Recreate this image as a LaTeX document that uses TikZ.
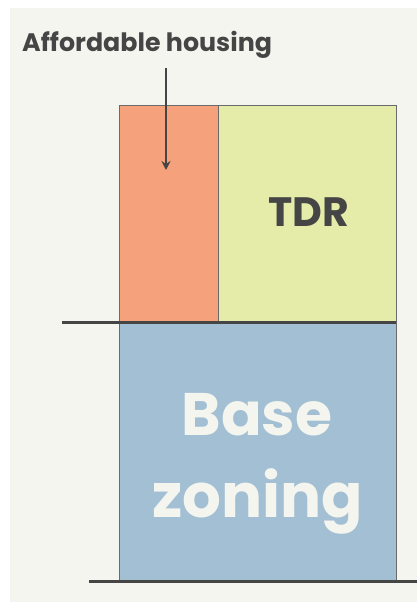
\documentclass[tikz,border=0pt]{standalone}
\usepackage{fontspec}
\setmainfont{Poppins}
\usetikzlibrary{arrows.meta}
\definecolor{bgc}{HTML}{F3F5EE}
\definecolor{orangec}{HTML}{F4A17C}
\definecolor{greenc}{HTML}{E5EBA9}
\definecolor{bluec}{HTML}{A3BFD4}
\definecolor{darkc}{HTML}{454545}
\tikzset{
  px/.style={x=1pt,y=-1pt},
  boxs/.style={draw=darkc!80, line width=1pt},
  ground/.style={draw=darkc, line width=3pt},
  lbl/.style={font=\bfseries, text=darkc, inner sep=0pt},
}
\begin{document}
\begin{tikzpicture}[px]
\useasboundingbox (0,0) rectangle (417,602);
\fill[white] (0,0) rectangle (417,602);
\fill[bgc] (10,8) rectangle (417,602);
\draw[boxs, fill=orangec] (119,105) rectangle (218,322);
\draw[boxs, fill=greenc] (218,105) rectangle (396,322);
\draw[boxs, fill=bluec] (119,322) rectangle (396,580);
\coordinate (tl) at (62,322);
\coordinate (tr) at (396,322);
\coordinate (bl) at (89,581);
\coordinate (br) at (417,581);
\draw[ground] (tl) -- (tr);
\draw[ground] (bl) -- (br);
\node[lbl, font=\fontsize{25.3}{26}\selectfont\bfseries, anchor=base west] (aff) at (22,52) {Affordable housing};
\coordinate (atop) at (166,68);
\coordinate (atip) at (166,170);
\draw[darkc, line width=2.6pt, -{Stealth[length=9pt,width=9pt]}] (atop) -- (atip);
\node[lbl, font=\fontsize{41}{41}\selectfont\bfseries, anchor=base] (tdr) at (309,226) {TDR};
\node[lbl, font=\fontsize{60}{60}\selectfont\bfseries, text=bgc, anchor=base] (base) at (257,435) {Base};
\node[lbl, font=\fontsize{61}{61}\selectfont\bfseries, text=bgc, anchor=base] (zon) at (258,517) {zoning};
\end{tikzpicture}
\end{document}
